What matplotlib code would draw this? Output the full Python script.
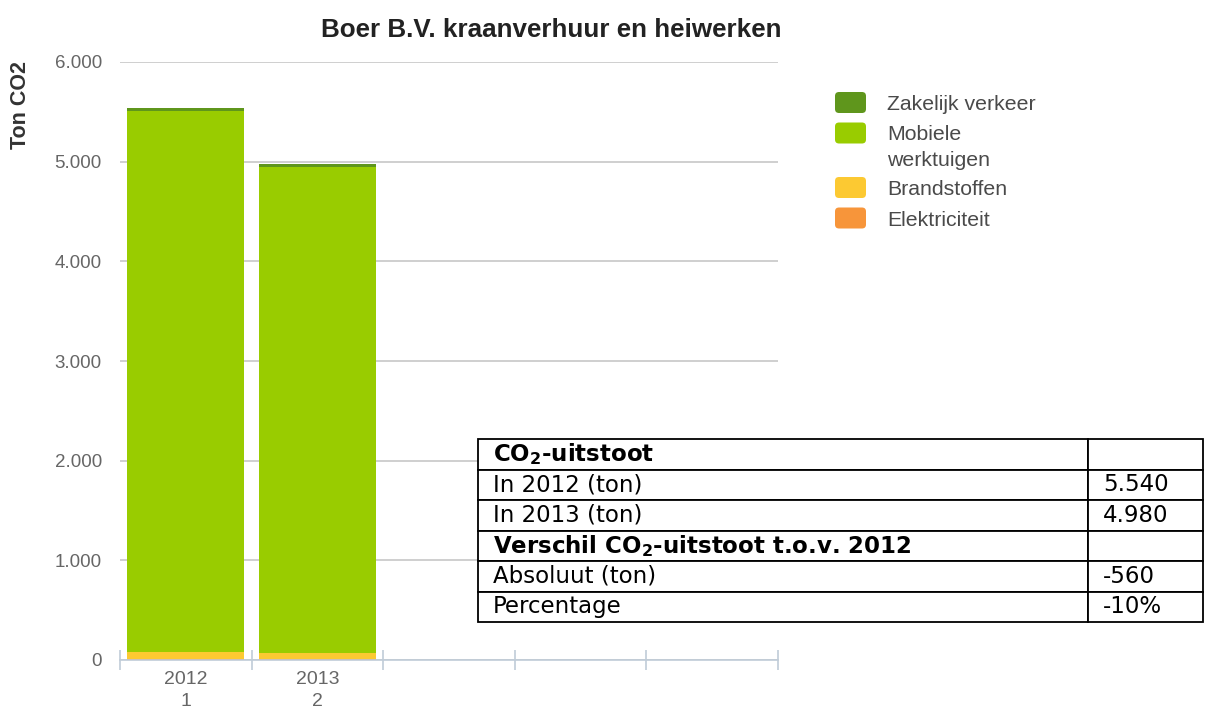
import matplotlib
matplotlib.use("Agg")
import matplotlib.pyplot as plt
import numpy as np
from matplotlib.patches import FancyBboxPatch
from matplotlib.transforms import IdentityTransform

# ---------------- data ----------------
years = ["2012", "2013"]
year_index = ["1", "2"]
n_slots = 5
elektriciteit = [15, 12]
brandstoffen = [65, 55]
mobiele = [5425, 4883]
zakelijk = [35, 30]

series_labels = ["Zakelijk verkeer", "Mobiele\nwerktuigen", "Brandstoffen", "Elektriciteit"]
series_colors = ["#5f961c", "#99cc00", "#fcc932", "#f7953a"]

yticks = [0, 1000, 2000, 3000, 4000, 5000, 6000]
ytick_labels = ["0", "1.000", "2.000", "3.000", "4.000", "5.000", "6.000"]

table_labels = [r"$\mathbf{CO_2}$-uitstoot", "In 2012 (ton)", "In 2013 (ton)",
                r"Verschil $\mathbf{CO_2}$-uitstoot t.o.v. 2012", "Absoluut (ton)", "Percentage"]
table_values = ["", "5.540", "4.980", "", "-560", "-10%"]
table_bold = [True, False, False, True, False, False]

# ---------------- figure ----------------
W, H = 1206, 713
plt.rcParams["font.family"] = ["Liberation Sans", "DejaVu Sans"]
fig = plt.figure(figsize=(W / 100, H / 100), dpi=100)


def fx(px):
    return px / W


def fy(py):
    return 1 - py / H


ax = fig.add_axes([fx(120), fy(660), fx(778) - fx(120), fy(62) - fy(660)])

x = np.arange(len(years))
stack = [elektriciteit, brandstoffen, mobiele, zakelijk]
stack_colors = series_colors[::-1]
bottom = np.zeros(len(years))
for vals, col in zip(stack, stack_colors):
    ax.bar(x, vals, width=0.89, bottom=bottom, color=col, linewidth=0, zorder=2)
    bottom = bottom + np.array(vals)

ax.set_xlim(-0.5, n_slots - 0.5)
ax.set_ylim(0, 6000)
ax.set_yticks(yticks)
ax.set_yticklabels(ytick_labels)
ax.yaxis.grid(True, color="#cccccc", linewidth=1.3)
ax.set_axisbelow(True)
for s in ["top", "right", "left"]:
    ax.spines[s].set_visible(False)
ax.spines["bottom"].set_color("#c0ccd8")
ax.spines["bottom"].set_linewidth(1.2)
ax.spines["bottom"].set_zorder(3)

ax.set_xticks(x)
ax.set_xticklabels([f"{y}\n{i}" for y, i in zip(years, year_index)], linespacing=1.4)
ax.set_xticks(np.arange(-0.5, n_slots, 1.0), minor=True)
ax.tick_params(axis="x", which="major", length=0, pad=8, labelsize=14, labelcolor="#666666")
ax.tick_params(axis="x", which="minor", length=14, direction="inout", color="#c0ccd8", width=1.2)
ax.tick_params(axis="y", length=0, pad=13, labelsize=13.5, labelcolor="#666666")

fig.text(fx(21), fy(105), "Ton CO2", rotation=90, fontsize=15.5, fontweight="bold",
         ha="center", va="center", color="#333333")
fig.text(fx(551), fy(30), "Boer B.V. kraanverhuur en heiwerken", fontsize=18.7,
         fontweight="bold", ha="center", va="center", color="#222222")

# ---------------- legend ----------------
yc = 102.5
for lab, col in zip(series_labels, series_colors):
    p = FancyBboxPatch((835, H - yc - 10.5), 31, 21, boxstyle="round,pad=0,rounding_size=4",
                       transform=IdentityTransform(), facecolor=col, edgecolor="none")
    fig.add_artist(p)
    lines = lab.split("\n")
    for j, ln in enumerate(lines):
        fig.text(fx(887), fy(yc + 2 + j * 25), ln, fontsize=15.3, color="#4a4a4a",
                 ha="left", va="center")
    yc += 30.5 + (len(lines) - 1) * 24

# ---------------- table ----------------
tax = fig.add_axes([fx(478), fy(622), fx(1203) - fx(478), fy(439) - fy(622)])
tax.axis("off")
col_w = [610 / 725, 115 / 725]
tbl = tax.table(cellText=[[l, v] for l, v in zip(table_labels, table_values)],
                colWidths=col_w, bbox=[0, 0, 1, 1], cellLoc="left")
tbl.auto_set_font_size(False)
for (r, c), cell in tbl.get_celld().items():
    cell.set_edgecolor("black")
    cell.set_linewidth(1.3)
    cell.PAD = 15 / 610 if c == 0 else 15 / 115
    t = cell.get_text()
    t.set_fontsize(16.5)
    t.set_fontfamily("DejaVu Sans")
    t.set_color("black")
    if c == 0 and table_bold[r]:
        t.set_fontweight("bold")

fig.savefig("out.png", dpi=100)
